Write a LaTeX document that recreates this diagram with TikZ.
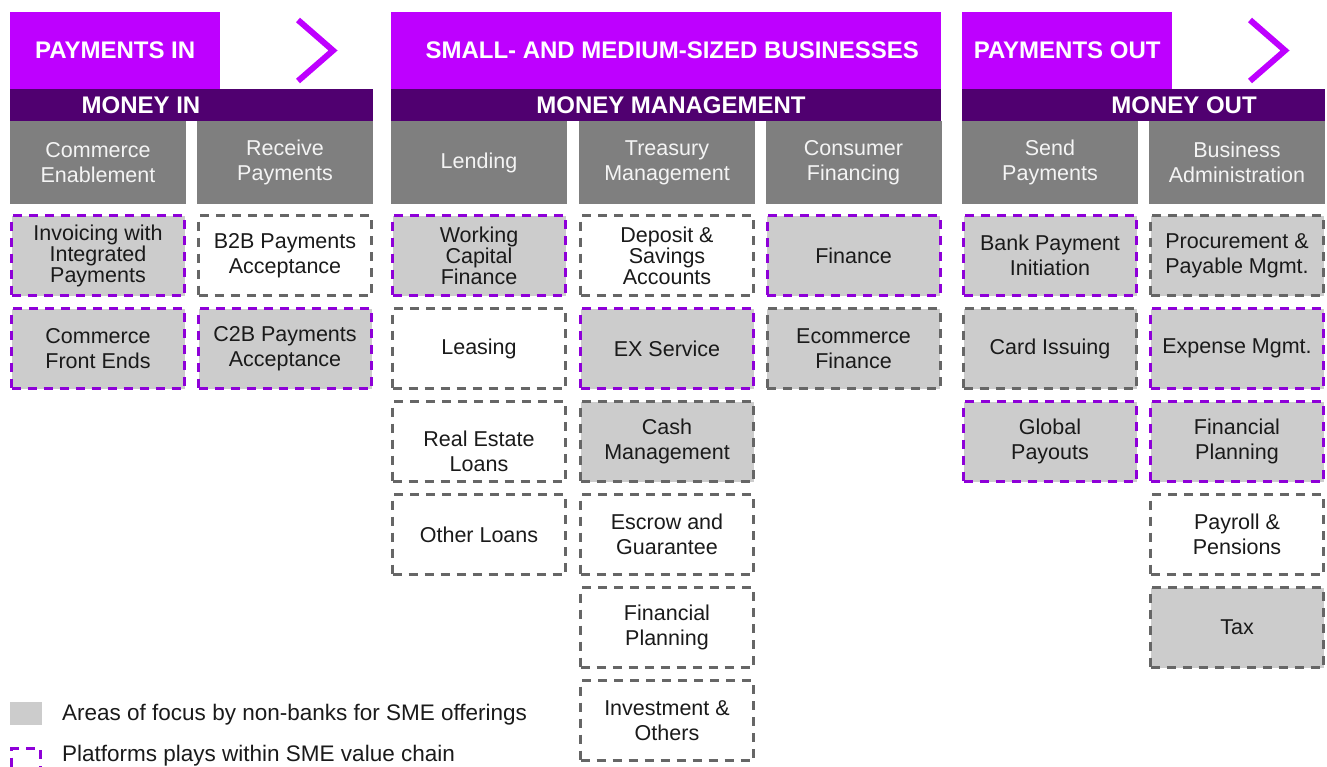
\documentclass[tikz,border=0pt]{standalone}
\usepackage{fontspec}
\setmainfont{Liberation Sans}
\usepackage{xcolor}
\usetikzlibrary{positioning}
\definecolor{stagepurple}{HTML}{BE00FF}
\definecolor{bandpurple}{HTML}{500070}
\definecolor{catgray}{HTML}{7F7F7F}
\definecolor{catwhite}{HTML}{F4F4F4}
\definecolor{focusgray}{HTML}{CCCCCC}
\definecolor{platpurple}{HTML}{8E00D8}
\definecolor{dashgray}{HTML}{666666}
\definecolor{boxtext}{HTML}{1A1A1A}
\newcommand{\headfont}{\bfseries\fontsize{24}{24}\selectfont}
\newcommand{\boxfont}{\fontsize{21.5}{25}\selectfont}
\newcommand{\tightfont}{\fontsize{21.5}{21}\selectfont}
\tikzstyle{stage} = [rectangle, fill=stagepurple, text=white, font=\headfont,
    minimum height=77pt, inner sep=0pt, anchor=north west]
\tikzstyle{band} = [rectangle, fill=bandpurple, minimum height=32pt, inner sep=0pt, anchor=north west]
\tikzstyle{bandtext} = [text=white, font=\headfont, inner sep=0pt]
\tikzstyle{category} = [rectangle, fill=catgray, text=catwhite, font=\boxfont, align=center,
    minimum width=176pt, minimum height=83pt, inner sep=0pt]
\tikzstyle{offer} = [rectangle, draw=dashgray, line width=3pt, dash pattern=on 9pt off 7pt,
    text=boxtext, font=\boxfont, align=center, minimum width=173pt, minimum height=80pt, inner sep=0pt]
\tikzstyle{focus} = [offer, fill=focusgray]
\tikzstyle{platform} = [focus, draw=platpurple]
\tikzstyle{chevron} = [draw=stagepurple, line width=6pt, miter limit=10]
\tikzstyle{legend} = [text=boxtext, font=\fontsize{22.5}{24}\selectfont, inner sep=0pt, anchor=west]

\begin{document}
\begin{tikzpicture}[x=1pt, y=1pt, node distance = 10pt]
      \useasboundingbox (0,0) rectangle (1327,-767);
      % Stages
      \node [stage, minimum width=210pt] (payments-in) at (10,-12) {PAYMENTS IN};
      \node [stage, minimum width=550pt] (sme) at (391,-12) {\hspace*{12pt}SMALL- AND MEDIUM-SIZED BUSINESSES};
      \node [stage, minimum width=210pt] (payments-out) at (962,-12) {PAYMENTS OUT};
      \draw [chevron] (298,-20) -- (333,-50.5) -- (298,-81);
      \draw [chevron] (1250,-20) -- (1285,-50.5) -- (1250,-81);
      % Bands
      \node [band, minimum width=363pt] (money-in) at (10,-89) {};
      \node [band, minimum width=550pt] (money-mgmt) at (391,-89) {};
      \node [band, minimum width=363pt] (money-out) at (962,-89) {};
      \node [bandtext] (money-in-text) at (141,-105) {MONEY IN};
      \node [bandtext] (money-mgmt-text) at (671,-105) {MONEY MANAGEMENT};
      \node [bandtext] (money-out-text) at (1184,-105) {MONEY OUT};
      % Categories
      \node [category] (commerce) at (98,-162.5) {Commerce\\Enablement};
      \node [category] (receive) at (285,-162.5) {Receive\\Payments};
      \node [category] (lending) at (479,-162.5) {Lending};
      \node [category] (treasury) at (667,-162.5) {Treasury\\Management};
      \node [category] (consumer) at (853.5,-162.5) {Consumer\\Financing};
      \node [category] (send) at (1050,-162.5) {Send\\Payments};
      \node [category] (admin) at (1237,-162.5) {Business\\Administration};
      % Money in
      \node [platform, font=\tightfont, below= of commerce] (invoicing) {Invoicing with\\Integrated\\Payments};
      \node [platform, below= of invoicing] (front-ends) {Commerce\\Front Ends};
      \node [offer, below= of receive] (b2b) {B2B Payments\\Acceptance};
      \node [platform, below= of b2b] (c2b) {C2B Payments\\Acceptance};
      % Money management
      \node [platform, font=\tightfont, below= of lending] (working-capital) {Working\\Capital\\Finance};
      \node [offer, below= of working-capital] (leasing) {Leasing};
      \node [offer, below= of leasing] (real-estate) {\rule{0pt}{34pt}Real Estate\\Loans};
      \node [offer, below= of real-estate] (other-loans) {Other Loans};
      \node [offer, font=\tightfont, below= of treasury] (deposit) {Deposit \&\\Savings\\Accounts};
      \node [platform, below= of deposit] (ex-service) {EX Service};
      \node [focus, below= of ex-service] (cash) {Cash\\Management};
      \node [offer, below= of cash] (escrow) {Escrow and\\Guarantee};
      \node [offer, below= of escrow] (treasury-planning) {Financial\\Planning};
      \node [offer, below= of treasury-planning] (investment) {Investment \&\\Others};
      \node [platform, below= of consumer] (finance) {Finance};
      \node [focus, below= of finance] (ecommerce) {Ecommerce\\Finance};
      % Money out
      \node [platform, below= of send] (bank-payment) {Bank Payment\\Initiation};
      \node [focus, below= of bank-payment] (card-issuing) {Card Issuing};
      \node [platform, below= of card-issuing] (payouts) {Global\\Payouts};
      \node [focus, below= of admin] (procurement) {Procurement \&\\Payable Mgmt.};
      \node [platform, below= of procurement] (expense) {Expense Mgmt.};
      \node [platform, below= of expense] (admin-planning) {Financial\\Planning};
      \node [offer, below= of admin-planning] (payroll) {Payroll \&\\Pensions};
      \node [focus, below= of payroll] (tax) {Tax};
      % Legend
      \node [fill=focusgray, minimum width=32pt, minimum height=23pt, inner sep=0pt] (key-focus) at (26,-713.5) {};
      \node [offer, draw=platpurple, minimum width=29pt, minimum height=29pt] (key-platform) at (26,-763) {};
      \node [legend] (key-focus-text) at (62,-715) {Areas of focus by non-banks for SME offerings};
      \node [legend] (key-platform-text) at (62,-756) {Platforms plays within SME value chain};
  \end{tikzpicture}
\end{document}
